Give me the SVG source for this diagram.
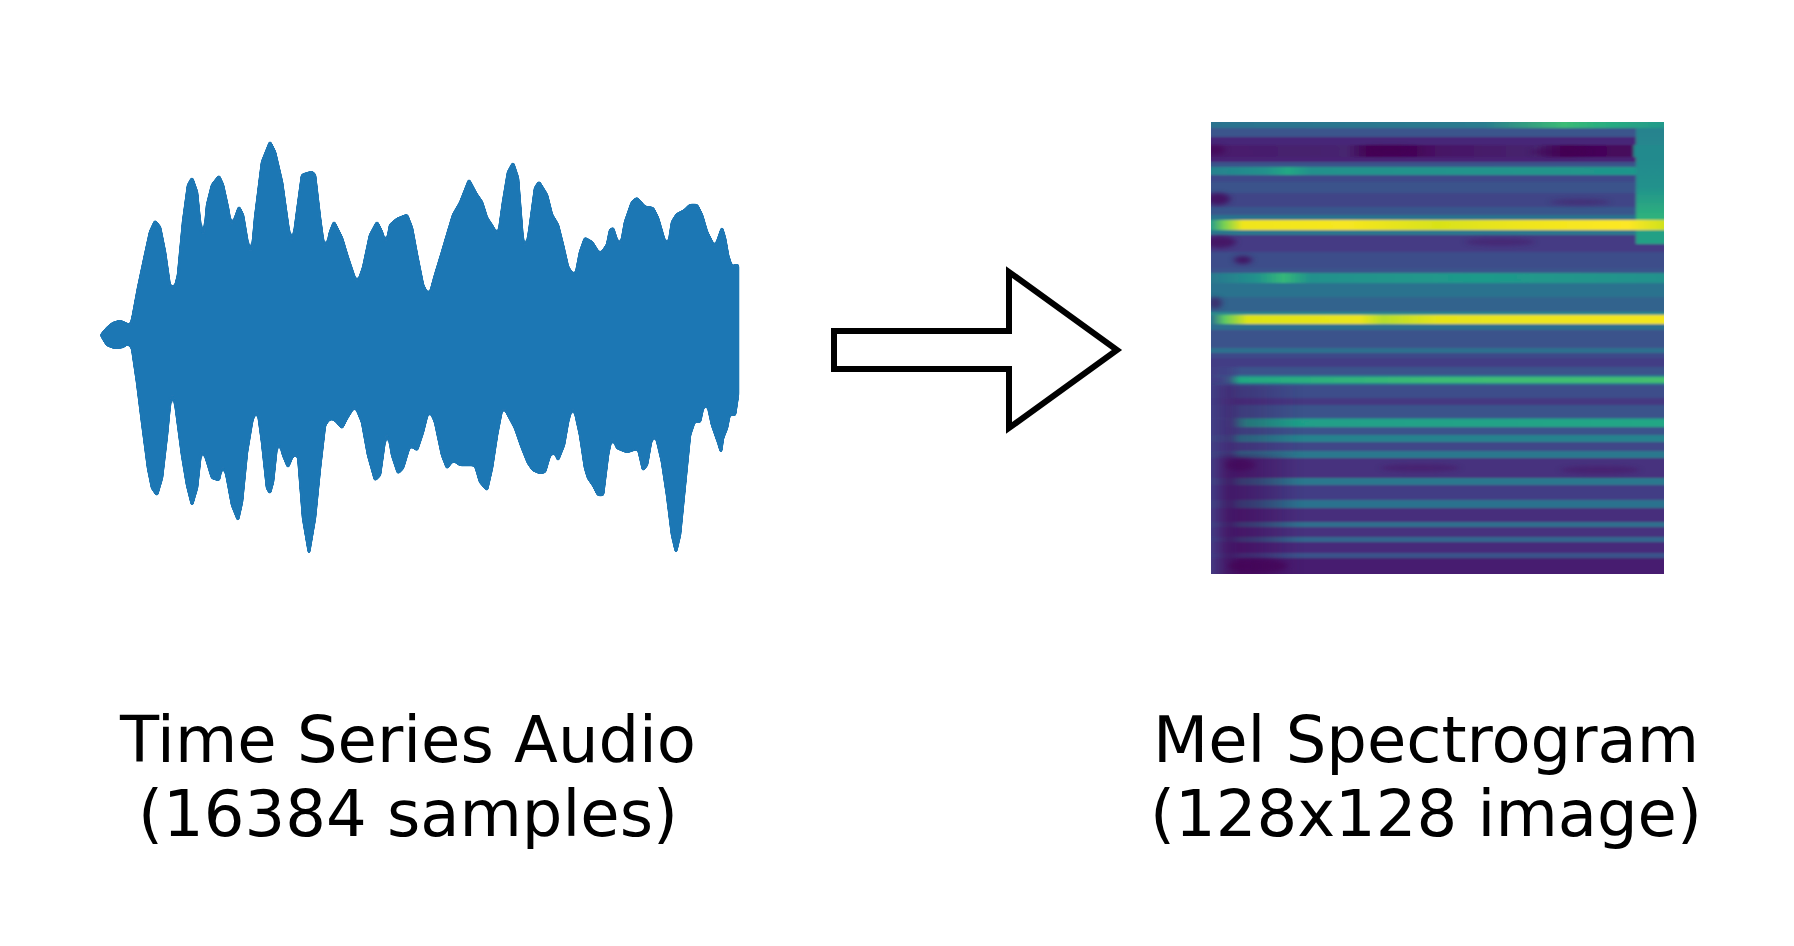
<svg xmlns="http://www.w3.org/2000/svg" width="1794" height="946" viewBox="0 0 1794 946">
<style>
.lbl{font-family:"DejaVu Sans","Liberation Sans",sans-serif;font-size:64px;fill:#000;text-anchor:middle}
.wave{fill:#1f77b4;stroke:#1f77b4;stroke-width:2.5;stroke-linejoin:round}
.arrow{fill:#fff;stroke:#000;stroke-width:6;stroke-linejoin:miter;stroke-miterlimit:10}
</style>
<defs>
<linearGradient id="yl1" gradientUnits="userSpaceOnUse" x1="1211" y1="0" x2="1664" y2="0">
<stop offset="0" stop-color="#2a9c89"/><stop offset="0.03" stop-color="#7ad151"/><stop offset="0.07" stop-color="#f0e51c"/><stop offset="0.3" stop-color="#f6e620"/><stop offset="0.5" stop-color="#d8e219"/><stop offset="0.7" stop-color="#f0e51c"/><stop offset="0.92" stop-color="#fde725"/><stop offset="1" stop-color="#d0e11c"/>
</linearGradient>
<linearGradient id="yl2" gradientUnits="userSpaceOnUse" x1="1211" y1="0" x2="1664" y2="0">
<stop offset="0" stop-color="#2c728e"/><stop offset="0.03" stop-color="#5ec962"/><stop offset="0.08" stop-color="#dde318"/><stop offset="0.33" stop-color="#eae51a"/><stop offset="0.38" stop-color="#b5de2b"/><stop offset="0.5" stop-color="#e5e419"/><stop offset="0.8" stop-color="#efe51c"/><stop offset="1" stop-color="#f3e61e"/>
</linearGradient>
<linearGradient id="gl" gradientUnits="userSpaceOnUse" x1="1211" y1="0" x2="1664" y2="0">
<stop offset="0" stop-color="#3b528b"/><stop offset="0.02" stop-color="#3b528b"/><stop offset="0.045" stop-color="#22a884"/><stop offset="0.5" stop-color="#3dbc74"/><stop offset="1" stop-color="#44bf70"/>
</linearGradient>
<linearGradient id="tl3" gradientUnits="userSpaceOnUse" x1="1211" y1="0" x2="1664" y2="0">
<stop offset="0" stop-color="#3b528b"/><stop offset="0.03" stop-color="#3b528b"/><stop offset="0.08" stop-color="#1f9e89"/><stop offset="1" stop-color="#22a785"/>
</linearGradient>
<linearGradient id="top" gradientUnits="userSpaceOnUse" x1="1211" y1="0" x2="1664" y2="0">
<stop offset="0" stop-color="#2c728e"/><stop offset="0.6" stop-color="#2a7b8e"/><stop offset="0.78" stop-color="#3bbb75"/><stop offset="0.86" stop-color="#29af7f"/><stop offset="1" stop-color="#23998a"/>
</linearGradient>
<linearGradient id="dark" gradientUnits="userSpaceOnUse" x1="1211" y1="0" x2="1664" y2="0">
<stop offset="0" stop-color="#481a6c"/><stop offset="0.3" stop-color="#46256f"/><stop offset="0.35" stop-color="#440154"/><stop offset="0.45" stop-color="#450559"/><stop offset="0.5" stop-color="#471365"/><stop offset="0.72" stop-color="#46256f"/><stop offset="0.78" stop-color="#440154"/><stop offset="0.85" stop-color="#450559"/><stop offset="0.93" stop-color="#460a5d"/><stop offset="0.935" stop-color="#238a8d"/><stop offset="1" stop-color="#238a8d"/>
</linearGradient>
<linearGradient id="tl1" gradientUnits="userSpaceOnUse" x1="1211" y1="0" x2="1664" y2="0">
<stop offset="0" stop-color="#26828e"/><stop offset="0.12" stop-color="#21918c"/><stop offset="0.17" stop-color="#22a884"/><stop offset="0.22" stop-color="#21918c"/><stop offset="1" stop-color="#1f978b"/>
</linearGradient>
<linearGradient id="tl2" gradientUnits="userSpaceOnUse" x1="1211" y1="0" x2="1664" y2="0">
<stop offset="0" stop-color="#2a788e"/><stop offset="0.1" stop-color="#21918c"/><stop offset="0.16" stop-color="#35b779"/><stop offset="0.22" stop-color="#21918c"/><stop offset="0.6" stop-color="#1f9a8a"/><stop offset="1" stop-color="#21918c"/>
</linearGradient>
<linearGradient id="rcol" gradientUnits="userSpaceOnUse" x1="0" y1="128" x2="0" y2="245">
<stop offset="0" stop-color="#26828e"/><stop offset="0.5" stop-color="#21918c"/><stop offset="0.78" stop-color="#2fb47c"/><stop offset="1" stop-color="#2a788e"/>
</linearGradient>
<linearGradient id="edge" gradientUnits="userSpaceOnUse" x1="1211" y1="0" x2="1240" y2="0">
<stop offset="0" stop-color="#433e85" stop-opacity="0.9"/><stop offset="0.65" stop-color="#433e85" stop-opacity="0.7"/><stop offset="1" stop-color="#433e85" stop-opacity="0"/>
</linearGradient>
<linearGradient id="leftdark" gradientUnits="userSpaceOnUse" x1="1211" y1="0" x2="1300" y2="0">
<stop offset="0" stop-color="#440154" stop-opacity="0"/><stop offset="0.2" stop-color="#440154" stop-opacity="0.6"/><stop offset="0.5" stop-color="#440154" stop-opacity="0.45"/><stop offset="1" stop-color="#440154" stop-opacity="0"/>
</linearGradient>
<filter id="soft" x="-5%" y="-5%" width="110%" height="110%">
<feGaussianBlur stdDeviation="1.5 1.1"/>
</filter>
<filter id="softbig" x="-20%" y="-20%" width="140%" height="140%">
<feGaussianBlur stdDeviation="3 2"/>
</filter>
<filter id="goo" x="-5%" y="-5%" width="110%" height="110%">
<feGaussianBlur in="SourceGraphic" stdDeviation="1.8"/>
<feComponentTransfer><feFuncA type="linear" slope="8" intercept="-3.2"/></feComponentTransfer>
</filter>
<clipPath id="spclip"><rect x="1211" y="122" width="453" height="452"/></clipPath>
</defs>

<g id="waveform" filter="url(#goo)">
<path class="wave" d="M101,335 L107,328 L113,323 L120,321 L127,324 L130,328 L133,315 L138,288 L145,255 L150,232 L155,221 L160,227 L165,252 L170,287 L175,287 L178,275 L183,222 L188,185 L192,178 L197,192 L200,222 L203,250 L207,205 L212,185 L219,176 L223,185 L228,208 L232,232 L235,218 L239,207 L243,215 L248,245 L251,263 L255,218 L262,162 L270,142 L275,152 L282,182 L288,225 L292,250 L297,212 L302,175 L308,173 L312,172 L315,175 L320,218 L325,255 L330,232 L334,222 L342,238 L348,258 L357,285 L363,268 L370,235 L377,222 L382,232 L386,248 L390,225 L397,219 L407,215 L412,228 L417,255 L423,285 L429,297 L435,275 L442,252 L447,235 L453,215 L460,203 L469,180 L477,195 L482,202 L487,218 L493,227 L498,238 L503,202 L508,172 L513,163 L518,178 L523,242 L526,252 L530,225 L535,188 L539,182 L547,195 L552,215 L558,225 L563,245 L568,267 L575,278 L580,252 L585,238 L592,242 L600,255 L607,245 L610,230 L613,228 L620,250 L625,222 L632,202 L637,198 L645,207 L653,208 L658,218 L665,242 L668,248 L672,222 L677,214 L685,210 L690,205 L697,205 L702,215 L707,232 L712,242 L714,253 L717,242 L722,228 L725,238 L728,255 L732,268 L733,280 L735,265 L738,265 L738,395 L735,415 L733,415 L732,402 L727,428 L723,438 L721,452 L718,442 L712,425 L707,402 L703,408 L700,422 L695,420 L690,435 L685,485 L680,535 L676,552 L672,535 L667,495 L662,462 L655,432 L651,442 L647,465 L643,470 L638,448 L633,450 L627,452 L622,450 L617,448 L612,435 L608,455 L603,495 L598,495 L593,485 L588,478 L585,468 L580,435 L573,403 L568,422 L564,445 L558,460 L555,452 L550,455 L545,472 L540,473 L533,470 L528,463 L522,448 L515,428 L508,415 L503,404 L497,435 L492,468 L487,490 L480,482 L475,465 L468,465 L460,465 L453,460 L447,468 L442,455 L435,422 L429,408 L423,432 L417,450 L410,445 L403,468 L398,473 L392,455 L387,425 L380,475 L375,480 L368,455 L362,422 L355,405 L347,418 L342,428 L335,420 L330,418 L325,425 L320,468 L315,518 L309,553 L303,518 L298,455 L293,455 L288,467 L283,455 L278,435 L273,482 L270,493 L267,488 L262,442 L257,405 L252,422 L247,452 L242,502 L238,520 L232,505 L227,478 L223,460 L219,480 L212,478 L205,455 L202,442 L197,488 L192,505 L187,485 L182,455 L175,402 L172,383 L167,435 L162,478 L157,495 L152,488 L148,468 L142,422 L137,382 L132,348 L128,343 L123,347 L115,348 L107,345 Z"/>
</g>

<g id="connectors">
<polygon id="arrow" class="arrow" points="834,331 1009,331 1009,272 1117,350 1009,428 1009,369 834,369"/>
</g>

<g id="spectrogram" clip-path="url(#spclip)">
<g filter="url(#soft)">
<rect x="1205" y="115" width="465" height="13" fill="url(#top)"/>
<rect x="1205" y="128" width="465" height="9" fill="#3a548c"/>
<rect x="1205" y="137" width="465" height="8" fill="#472878"/>
<rect x="1205" y="145" width="465" height="12" fill="url(#dark)"/>
<rect x="1205" y="157" width="465" height="5" fill="#482475"/>
<rect x="1205" y="162" width="465" height="5" fill="#3b528b"/>
<rect x="1205" y="167" width="465" height="8" fill="url(#tl1)"/>
<rect x="1205" y="175" width="465" height="7" fill="#3e4989"/>
<rect x="1205" y="182" width="465" height="11" fill="#3b528b"/>
<rect x="1205" y="193" width="465" height="14" fill="#414487"/>
<rect x="1205" y="207" width="465" height="8" fill="#39568c"/>
<rect x="1205" y="215" width="465" height="5" fill="#2c728e"/>
<rect x="1205" y="220" width="465" height="10" fill="url(#yl1)"/>
<rect x="1205" y="230" width="465" height="5" fill="#2a788e"/>
<rect x="1205" y="235" width="465" height="17" fill="#443b84"/>
<rect x="1205" y="252" width="465" height="16" fill="#3d4d8a"/>
<rect x="1205" y="268" width="465" height="5" fill="#3b528b"/>
<rect x="1205" y="273" width="465" height="10" fill="url(#tl2)"/>
<rect x="1205" y="283" width="465" height="14" fill="#2c728e"/>
<rect x="1205" y="297" width="465" height="15" fill="#33638d"/>
<rect x="1205" y="312" width="465" height="3" fill="#2a8a8c"/>
<rect x="1205" y="315" width="465" height="9" fill="url(#yl2)"/>
<rect x="1205" y="324" width="465" height="6" fill="#2e6e8e"/>
<rect x="1205" y="330" width="465" height="18" fill="#3b528b"/>
<rect x="1205" y="348" width="465" height="5" fill="#2d708e"/>
<rect x="1205" y="353" width="465" height="5" fill="#3e4a89"/>
<rect x="1205" y="358" width="465" height="9" fill="#433e85"/>
<rect x="1205" y="367" width="465" height="8" fill="#3b528b"/>
<rect x="1205" y="375" width="465" height="2" fill="#2a788e"/>
<rect x="1205" y="377" width="465" height="6" fill="url(#gl)"/>
<rect x="1205" y="383" width="465" height="2" fill="#2c728e"/>
<rect x="1205" y="385" width="465" height="13" fill="#3d4d8a"/>
<rect x="1205" y="398" width="465" height="7" fill="#453781"/>
<rect x="1205" y="405" width="465" height="13" fill="#3b528b"/>
<rect x="1205" y="418" width="465" height="1" fill="#2a788e"/>
<rect x="1205" y="419" width="465" height="8" fill="url(#tl3)"/>
<rect x="1205" y="427" width="465" height="8" fill="#3b528b"/>
<rect x="1205" y="435" width="465" height="7" fill="#26828e"/>
<rect x="1205" y="442" width="465" height="9" fill="#3f4788"/>
<rect x="1205" y="451" width="465" height="7" fill="#2a788e"/>
<rect x="1205" y="458" width="465" height="20" fill="#46307e"/>
<rect x="1205" y="478" width="465" height="7" fill="#2a788e"/>
<rect x="1205" y="485" width="465" height="15" fill="#433e85"/>
<rect x="1205" y="500" width="465" height="8" fill="#2c728e"/>
<rect x="1205" y="508" width="465" height="14" fill="#472d7b"/>
<rect x="1205" y="522" width="465" height="5" fill="#2d708e"/>
<rect x="1205" y="527" width="465" height="10" fill="#46307e"/>
<rect x="1205" y="537" width="465" height="5" fill="#31668e"/>
<rect x="1205" y="542" width="465" height="11" fill="#472a7a"/>
<rect x="1205" y="553" width="465" height="5" fill="#3b528b"/>
<rect x="1205" y="558" width="465" height="22" fill="#471e6f"/>
<rect x="1636" y="128" width="34" height="17" fill="url(#rcol)"/>
<rect x="1636" y="157" width="34" height="63" fill="url(#rcol)"/>
<rect x="1636" y="230" width="34" height="14" fill="#22a085"/>
<rect x="1205" y="360" width="35" height="220" fill="url(#edge)"/>
</g>
<g filter="url(#softbig)">
<ellipse cx="1215" cy="150" rx="10" ry="5" fill="#440154" opacity="0.6"/>
<ellipse cx="1218" cy="199" rx="12" ry="6" fill="#440154" opacity="0.7"/>
<ellipse cx="1220" cy="242" rx="16" ry="6" fill="#440154" opacity="0.6"/>
<ellipse cx="1243" cy="260" rx="9" ry="4" fill="#440154" opacity="0.7"/>
<ellipse cx="1215" cy="303" rx="7" ry="6" fill="#440154" opacity="0.5"/>
<ellipse cx="1390" cy="150" rx="30" ry="4" fill="#440154" opacity="0.5"/>
<ellipse cx="1560" cy="152" rx="30" ry="4" fill="#440154" opacity="0.5"/>
<rect x="1211" y="385" width="90" height="70" fill="url(#leftdark)" opacity="0.5"/>
<rect x="1211" y="455" width="90" height="125" fill="url(#leftdark)"/>
<ellipse cx="1258" cy="566" rx="30" ry="7" fill="#440154" opacity="0.6"/>
<ellipse cx="1240" cy="465" rx="15" ry="6" fill="#440154" opacity="0.5"/>
<ellipse cx="1420" cy="468" rx="40" ry="4" fill="#440154" opacity="0.3"/>
<ellipse cx="1600" cy="470" rx="40" ry="4" fill="#440154" opacity="0.3"/>
<ellipse cx="1500" cy="242" rx="35" ry="4" fill="#440154" opacity="0.3"/>
<ellipse cx="1580" cy="202" rx="30" ry="3" fill="#440154" opacity="0.3"/>
</g>
</g>

<g id="label-left">
<text class="lbl" x="408" y="762">Time Series Audio</text>
<text class="lbl" x="408" y="836">(16384 samples)</text>
</g>
<g id="label-right">
<text class="lbl" x="1426" y="762">Mel Spectrogram</text>
<text class="lbl" x="1426" y="836">(128x128 image)</text>
</g>
</svg>
